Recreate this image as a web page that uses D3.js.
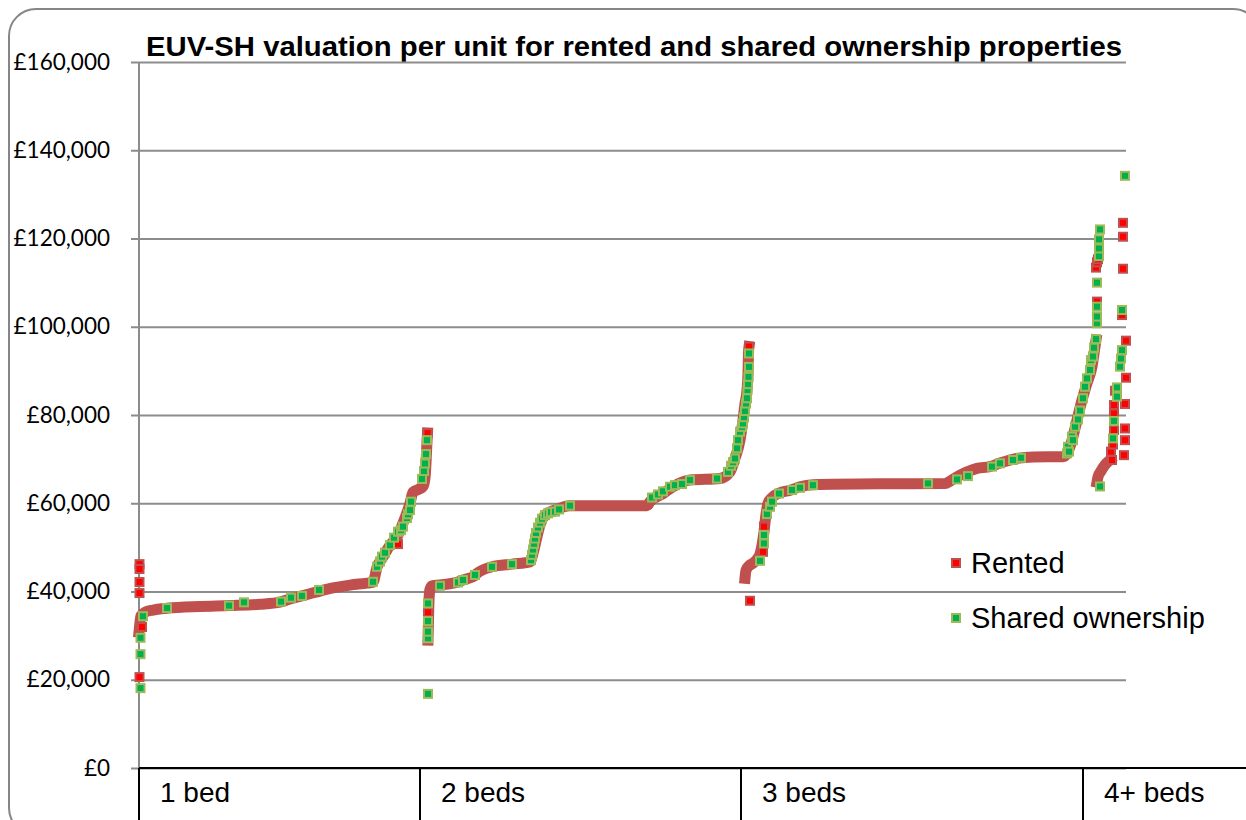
<!DOCTYPE html>
<html>
<head>
<meta charset="utf-8">
<script src="https://cdn.jsdelivr.net/npm/d3@7"></script>
<style>
body { margin: 0; background: #fff; }
svg { display: block; }
.axis text { font-family: Lato, "Open Sans", sans-serif; font-size: 22.5px; fill: #000; }
</style>
</head>
<body>
<svg id="chart" width="1246" height="820"></svg>
<script>
// values, x = rank of the property in the sorted list
const yTicks = [0, 20000, 40000, 60000, 80000, 100000, 120000, 140000, 160000];
const categories = ["1 bed", "2 beds", "3 beds", "4+ beds"];
const categoryStart = [0, 281, 602, 944];
const rankCount = 987;

// rented: runs of overlapping markers (drawn as one thick band)
const rented1BedRun = [[0,30800],[1,33000],[2,34500],[6,35300],[14,35800],[28,36200],[61,36600],[91,36800],[121,37100],[141,37600],[151,38300],[161,38900],[171,39500],[181,40100],[194,40800],[211,41450],[228,41900],[234,42100],[238,45500],[244,47800],[251,50500],[258,52350],[264,55500],[271,60000],[274,62500],[281,63300],[284,63800],[286,65700],[287,69100],[288,74000],[288.5,75900]];
const rented2BedsRun = [[289,29000],[289.5,33500],[290,38000],[291,40500],[293,41300],[301,41500],[318,42100],[324,42600],[336,43600],[338,44100],[353,45600],[373,46200],[391,46700],[394,48600],[398,52400],[401,55050],[406,57300],[416,58450],[431,59450],[508,59450],[511,60350],[524,62200],[534,63750],[551,65250],[581,65600],[591,67100],[596,70150],[601,74300],[604,78850],[606,82600],[608,85650],[609,89450],[609.5,94000],[610,95500]];
const rented3BedsRun = [[606,43000],[607,44800],[610,45800],[614,46400],[618,47300],[621,48500],[623,50500],[625,53500],[627,57500],[629,60000],[633,61300],[640,62300],[652,63000],[661,63750],[674,64200],[741,64400],[806,64450],[811,65000],[815,65600],[827,67000],[838,67900],[851,68300],[861,69100],[878,70150],[894,70500],[924,70550],[928,71300],[931,72800],[934,75100],[938,78850],[943,83400],[948,87200],[953,90950],[956,95500],[957,97000]];
const rented4BedsRun = [[958,64800],[959,66000],[962,67300],[966,68700],[971,69800]];

// rented: single markers that stand out
const rentedMarks = [[0.5,46200],[0.5,45100],[0.5,42150],[0.5,39650],[3,31950],[0.5,20600],[259,50750],[288.5,75900],
  [289,35300],[610,95500],
  [611,37900],[624,49000],[625,54700],[958,105700],[957,113400],[958,114600],[959,115300],
  [972,71700],[973,69800],[975,82250],[975,80350],[975,76600],[974,73300],[976,85500],
  [987,96850],[987,88450],[986,82500],[986,76950],[986,74300],[985,70900],[983,102650],[984,113150],[984,120400],[984,123550]];

// shared ownership
const shared1Bed = [[1.5,18100],[1.5,25800],[1.5,29500],[4,34400],[28,36250],[90,36800],[105,37550],[142,37700],[152,38600],[163,39000],[180,40350],[234,42200],[238,45600],[241,46800],[243,47900],[246,48800],[251,50500],[255,52200],[259,53550],[262,53900],[264,54700],[268,56650],[269,57500],[271,58450],[272,60350],[283,65500],[285,67300],[286,69000],[287,71150],[288,74300]];
const shared2Beds = [[289,16800],[289,29400],[289,30900],[289,33300],[289,37300],[301,41300],[319,42050],[324,42600],[336,43750],[353,45600],[373,46200],[392,47100],[393,48300],[394,49500],[395,50800],[396,52000],[397,53250],[399,54500],[401,55600],[403,56500],[406,57300],[409,57700],[412,58000],[416,58100],[420,58600],[431,59450],[513,61300],[519,62000],[524,62700],[531,63750],[536,64100],[543,64350],[551,65250],[578,65600],[589,67100],[592,68500],[594,69300],[596,70150],[598,72450],[599,74300],[601,76200],[603,77300],[604,78100],[605,79500],[606,80900],[607,82600],[608,83800],[608.5,85650],[609,87000],[609.5,88650],[610,90900],[610,93950]];
const shared3Beds = [[621,46950],[625,50900],[625,52800],[628,57550],[631,59200],[633,60350],[640,62200],[653,63000],[661,63500],[674,64100],[789,64500],[818,65400],[829,66150],[853,68300],[861,69050],[874,69800],[882,70300],[928,71300],[929,72800],[930,71700],[933,75100],[934,74300],[936,77350],[939,79000],[941,81000],[944,83800],[946,86400],[948,88300],[951,90200],[952,92450],[954,93250],[955,95250],[957,97200],[958,100800],[958,102300],[958,104550],[958,110000],[960,116000],[960,117750],[960,119800],[961,122050]];
const shared4Beds = [[961,63800],[974,74700],[975,78650],[978,84150],[978,86250],[981,90950],[982,92800],[983,94700],[983,103800],[986,134200]];

const rentedFill = "#ff0000", rentedEdge = "#c0504d";
const sharedFill = "#00b050", sharedEdge = "#9bbb59";

let chart = d3.select("#chart"),
    margin = {top: 62, right: 120, bottom: 52, left: 139},
    width = +chart.attr("width") - margin.left - margin.right,
    height = +chart.attr("height") - margin.top - margin.bottom;

// outer chart border
chart.append("rect")
    .attr("x", 9).attr("y", 9)
    .attr("width", 1251).attr("height", 826)
    .attr("rx", 27)
    .attr("fill", "#fff")
    .attr("stroke", "#868686")
    .attr("stroke-width", 2);

chart.append("text")
    .attr("x", 146).attr("y", 56)
    .attr("textLength", 976)
    .attr("lengthAdjust", "spacingAndGlyphs")
    .style("font-family", "'Liberation Sans', Arial, sans-serif")
    .style("font-weight", "bold")
    .style("font-size", "27px")
    .text("EUV-SH valuation per unit for rented and shared ownership properties");

let x = d3.scaleLinear().domain([0, rankCount]).range([0, width]);
let y = d3.scaleLinear().domain([0, 160000]).range([height, 0]);

let focus = chart.append("g")
    .attr("transform", "translate(" + margin.left + "," + margin.top + ")");

// grid lines, tick marks and labels in one axis
let yAxis = focus.append("g")
    .attr("class", "axis")
    .attr("transform", "translate(-8,0)")
    .call(d3.axisLeft(y)
        .tickValues(yTicks)
        .tickSizeInner(-(width + 8))
        .tickSizeOuter(0)
        .tickPadding(21)
        .tickFormat(d => "£" + d3.format(",")(d)));
yAxis.select(".domain").remove();
yAxis.selectAll(".tick line").attr("stroke", "#8c8c8c").attr("stroke-width", 2);

focus.append("line")
    .attr("x1", 0).attr("x2", 0)
    .attr("y1", 0).attr("y2", height)
    .attr("stroke", "#8c8c8c")
    .attr("stroke-width", 2);

// category boxes under the axis
focus.append("line")
    .attr("x1", 0).attr("x2", 1246 - margin.left)
    .attr("y1", height).attr("y2", height)
    .attr("stroke", "#000").attr("stroke-width", 2);

focus.selectAll(".cat-line")
    .data(categoryStart)
    .enter().append("line")
    .attr("class", "cat-line")
    .attr("x1", d => x(d)).attr("x2", d => x(d))
    .attr("y1", height).attr("y2", height + margin.bottom)
    .attr("stroke", "#000").attr("stroke-width", 2);

focus.selectAll(".cat-label")
    .data(categories)
    .enter().append("text")
    .attr("class", "cat-label")
    .attr("x", (d, i) => x(categoryStart[i]) + 21)
    .attr("y", height + 34)
    .style("font-family", "'Liberation Sans', Arial, sans-serif")
    .style("font-size", "28px")
    .text(d => d);

// rented band
let line = d3.line()
    .x(d => x(d[0]))
    .y(d => y(d[1]))
    .curve(d3.curveMonotoneX);

[rented1BedRun, rented2BedsRun, rented3BedsRun, rented4BedsRun].forEach(run => {
    focus.append("path")
        .datum(run)
        .attr("fill", "none")
        .attr("stroke", rentedEdge)
        .attr("stroke-width", 11)
        .attr("stroke-linejoin", "round")
        .attr("stroke-linecap", "square")
        .attr("d", line);
});

function drawMarks(points, fill, edge) {
    focus.append("g")
        .selectAll("rect")
        .data(points)
        .enter().append("rect")
        .attr("x", d => x(d[0]) - 4)
        .attr("y", d => y(d[1]) - 4)
        .attr("width", 8).attr("height", 8)
        .attr("fill", fill)
        .attr("stroke", edge)
        .attr("stroke-width", 2);
}

drawMarks(rentedMarks, rentedFill, rentedEdge);
drawMarks(shared1Bed.concat(shared2Beds, shared3Beds, shared4Beds), sharedFill, sharedEdge);

// legend
let legend = chart.append("g");
[["Rented", rentedFill, rentedEdge], ["Shared ownership", sharedFill, sharedEdge]].forEach((item, i) => {
    legend.append("rect")
        .attr("x", 952).attr("y", 559 + i * 55)
        .attr("width", 8).attr("height", 8)
        .attr("fill", item[1])
        .attr("stroke", item[2])
        .attr("stroke-width", 2);
    legend.append("text")
        .attr("x", 971).attr("y", 573 + i * 55)
        .style("font-family", "'Liberation Sans', Arial, sans-serif")
        .style("font-size", "29px")
        .text(item[0]);
});
</script>
</body>
</html>
